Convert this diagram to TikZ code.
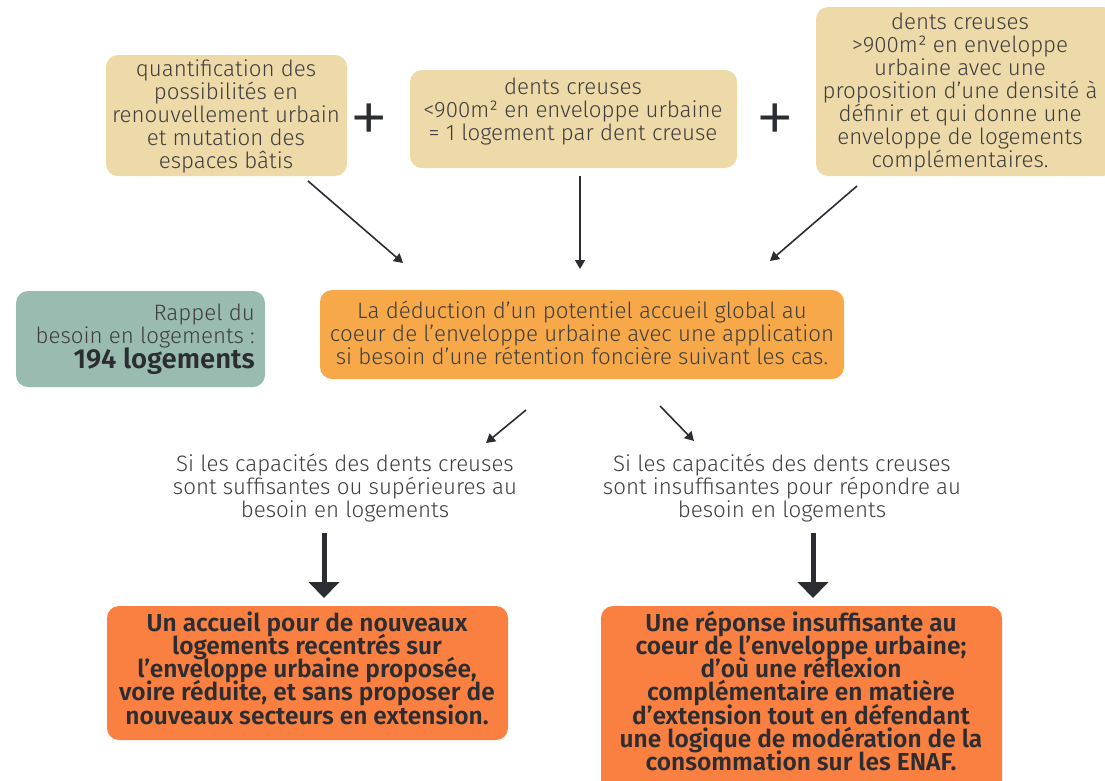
\documentclass[tikz,border=0pt]{standalone}
\usepackage{fontspec}
\setmainfont{Fira Sans}[UprightFont=* Light, BoldFont=* SemiBold]
\usepackage{xcolor}
\usepackage{tikz}
\usetikzlibrary{arrows.meta}

\definecolor{sable}{HTML}{EED9A8}
\definecolor{sauge}{HTML}{9ABCB0}
\definecolor{ambre}{HTML}{F7A94A}
\definecolor{corail}{HTML}{F98040}
\definecolor{encre}{HTML}{2B2D33}
\definecolor{gris}{HTML}{3E3E3E}

% interligne fixe, meme avec les grands corps
\newcommand{\serre}{\setlength{\lineskiplimit}{-50pt}}

\tikzset{
  boite/.style={rounded corners=12pt, align=center, inner sep=0pt, text=gris,
    font=\fontsize{22.3}{23}\selectfont\serre},
  fleche/.style={draw=encre, line width=1.6pt, -{Triangle[length=9pt,width=10pt]}},
  grosse/.style={draw=encre, line width=5pt, -{Triangle[length=16pt,width=30pt]}},
}

\begin{document}
\begin{tikzpicture}[x=1pt,y=-1pt]
\useasboundingbox (0,0) rectangle (1105,780);
% ligne du haut
\fill[sable, rounded corners=12pt] (106,55) rectangle (347,176);
\node[boite] (a) at (226,116) {quantification des\\possibilités en\\renouvellement urbain\\et mutation des\\espaces bâtis};
\node[text=encre, font=\fontsize{80}{80}\selectfont] (p1) at (369,124) {+};
\fill[sable, rounded corners=12pt] (410,70) rectangle (737,168);
\node[boite] (b) at (573,111) {dents creuses\\<900m² en enveloppe urbaine\\= 1 logement par dent creuse};
\node[text=encre, font=\fontsize{80}{80}\selectfont] (p2) at (775,124) {+};
\fill[sable, rounded corners=12pt] (816,7) rectangle (1115,176);
\node[boite] (c) at (960,92) {dents creuses\\>900m² en enveloppe\\urbaine avec une\\proposition d’une densité à\\définir et qui donne une\\enveloppe de logements\\complémentaires.};

\coordinate (a1) at (308,181);  \coordinate (a2) at (403,263);
\coordinate (b1) at (580,176);  \coordinate (b2) at (580,269);
\coordinate (c1) at (857,186);  \coordinate (c2) at (770,261);
\draw[fleche] (a1) -- (a2);
\draw[fleche] (b1) -- (b2);
\draw[fleche] (c1) -- (c2);

% rappel et deduction
\fill[sauge, rounded corners=12pt] (16,291) rectangle (265,387);
\node[boite, align=right, anchor=east] (r) at (255,339) {Rappel du\\besoin en logements :\\[2pt]{\fontsize{27.5}{28}\selectfont\bfseries\color{encre}194 logements}};
\fill[ambre, rounded corners=12pt] (320,290) rectangle (844,379);
\node[boite] (d) at (582,333) {La déduction d’un potentiel accueil global au\\coeur de l’enveloppe urbaine avec une application\\si besoin d’une rétention foncière suivant les cas.};

\coordinate (d1) at (526,410);  \coordinate (d2) at (486,443);
\coordinate (e1) at (660,406);  \coordinate (e2) at (694,441);
\draw[fleche] (d1) -- (d2);
\draw[fleche] (e1) -- (e2);

\node[boite] (s1) at (345,488) {Si les capacités des dents creuses\\sont suffisantes ou supérieures au\\besoin en logements};
\node[boite] (s2) at (782,488) {Si les capacités des dents creuses\\sont insuffisantes pour répondre au\\besoin en logements};

\coordinate (g1) at (324,533);  \coordinate (g2) at (324,598);
\coordinate (h1) at (813,533);  \coordinate (h2) at (813,598);
\draw[grosse] (g1) -- (g2);
\draw[grosse] (h1) -- (h2);

% conclusions
\fill[corail, rounded corners=12pt] (107,606) rectangle (508,740);
\node[boite, text=encre, font=\fontsize{24.5}{23.2}\selectfont\bfseries\serre] (o1) at (307,668) {Un accueil pour de nouveaux\\logements recentrés sur\\l’enveloppe urbaine proposée,\\voire réduite, et sans proposer de\\nouveaux secteurs en extension.};
\fill[corail, rounded corners=12pt] (601,606) rectangle (1002,800);
\node[boite, text=encre, font=\fontsize{24.5}{23.2}\selectfont\bfseries\serre] (o2) at (801,691) {Une réponse insuffisante au\\coeur de l’enveloppe urbaine;\\d’où une réflexion\\complémentaire en matière\\d’extension tout en défendant\\une logique de modération de la\\consommation sur les ENAF.};
\end{tikzpicture}
\end{document}
